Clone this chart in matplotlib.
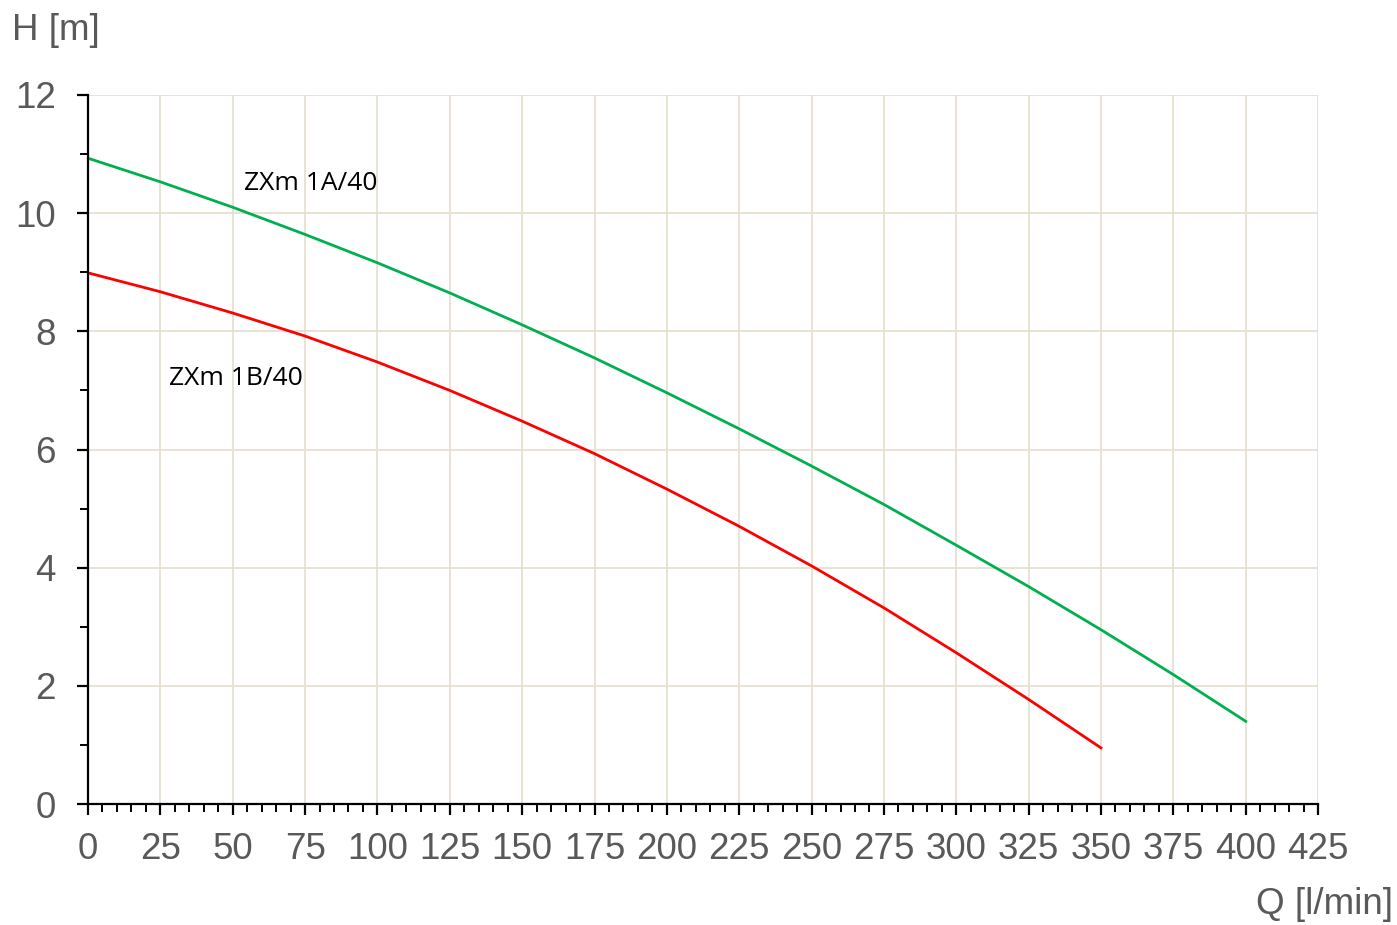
import numpy as np
import matplotlib.pyplot as plt

plt.rcParams['font.family'] = ['Liberation Sans', 'DejaVu Sans']

# krzywe pomp
Q = [0, 25, 50, 75, 100, 125, 150, 175, 200, 225, 250, 275, 300, 325, 350, 375, 400]
H_1A = [10.93, 10.53, 10.1, 9.64, 9.16, 8.65, 8.11, 7.55, 6.96, 6.35, 5.72, 5.07, 4.38, 3.68, 2.95, 2.19, 1.40]
Q_1B = [0, 25, 50, 75, 100, 125, 150, 175, 200, 225, 250, 275, 300, 325, 350]
H_1B = [8.99, 8.67, 8.31, 7.92, 7.48, 7.0, 6.48, 5.93, 5.33, 4.70, 4.03, 3.32, 2.56, 1.77, 0.95]

x_ticks = np.arange(0, 426, 25)
y_ticks = np.arange(0, 13, 2)

fig = plt.figure(figsize=(13.97, 9.25), dpi=100)
ax = fig.add_axes([0.063, 0.1308, 0.8805, 0.7665])

ax.plot(Q, H_1A, color='#00b050', lw=2.0, zorder=3, solid_joinstyle='round')
ax.plot(Q_1B, H_1B, color='#ff0000', lw=2.0, zorder=3, solid_joinstyle='round')

ax.set_xlim(0, 425)
ax.set_ylim(0, 12)
ax.set_xticks(x_ticks)
ax.set_yticks(y_ticks)
ax.set_xticks(np.arange(0, 426, 5), minor=True)
ax.set_yticks(np.arange(0, 13, 1), minor=True)
ax.grid(True, which='major', color='#e6e1cf', lw=1.3, zorder=0)

for s in ['top', 'right']:
    ax.spines[s].set_visible(False)
for s in ['left', 'bottom']:
    ax.spines[s].set_linewidth(1.6)
    ax.spines[s].set_zorder(4)

ax.tick_params(which='major', length=8, width=1.6, direction='out', labelsize=26.5, labelcolor='#595959')
ax.tick_params(which='minor', length=6, width=1.4, direction='out')
ax.tick_params(axis='x', pad=12)
ax.tick_params(axis='y', pad=15)

ax.text(54, 10.5, 'ZXm 1A/40', fontsize=19, family=['Open Sans', 'DejaVu Sans'], color='black', ha='left', va='center')
ax.text(28, 7.2, 'ZXm 1B/40', fontsize=19, family=['Open Sans', 'DejaVu Sans'], color='black', ha='left', va='center')

fig.text(12 / 1397, 1 - 30 / 925, 'H [m]', fontsize=26.5, color='#595959', ha='left', va='center')
fig.text(1393 / 1397, 1 - 905 / 925, 'Q [l/min]', fontsize=26.5, color='#595959', ha='right', va='center')

fig.savefig('out.png', dpi=100)
